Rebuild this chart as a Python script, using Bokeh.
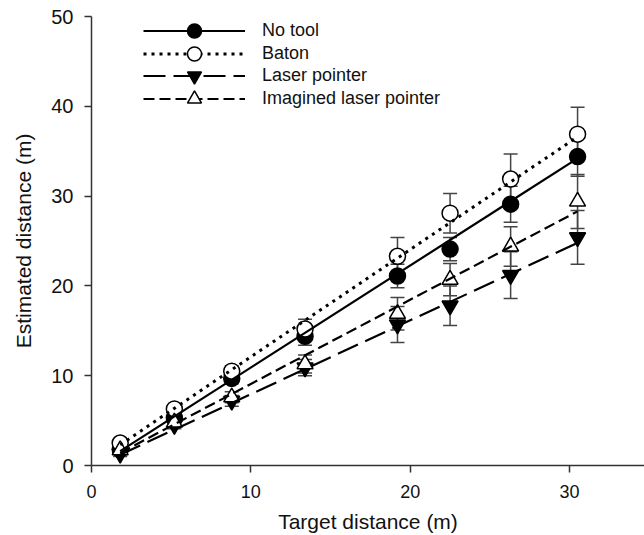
from bokeh.plotting import figure
from bokeh.models import (Range1d, FixedTicker, Legend, LegendItem, Whisker,
                          ColumnDataSource, TeeHead)
from bokeh.embed import file_html
from bokeh.resources import INLINE

# ---- data ----
target = [1.8, 5.2, 8.8, 13.4, 19.2, 22.5, 26.3, 30.5]

no_tool = [1.8, 5.3, 9.7, 14.4, 21.1, 24.1, 29.1, 34.4]
no_tool_se = [0.3, 0.4, 0.6, 1.0, 1.3, 1.3, 2.0, 2.2]

baton = [2.5, 6.3, 10.5, 15.2, 23.3, 28.1, 31.9, 36.9]
baton_se = [0.3, 0.4, 0.6, 1.1, 2.1, 2.2, 2.8, 3.0]

laser = [1.3, 4.5, 7.2, 10.9, 15.7, 17.8, 21.2, 25.4]
laser_se = [0.3, 0.4, 0.6, 0.9, 2.0, 2.2, 2.6, 3.0]

imagined = [1.7, 4.8, 7.6, 11.3, 16.9, 20.7, 24.4, 29.4]
imagined_se = [0.3, 0.4, 0.6, 1.0, 1.8, 1.8, 2.2, 3.0]

# regression line end points
fit_x = [1.8, 30.5]
fit_no_tool = [1.6, 34.2]
fit_baton = [2.3, 36.6]
fit_laser = [1.2, 24.8]
fit_imagined = [1.4, 28.3]

labels = ["No tool", "Baton", "Laser pointer", "Imagined laser pointer"]
x_ticks = [0, 10, 20, 30]
y_ticks = [0, 10, 20, 30, 40, 50]

FONT = "Liberation Sans"

p = figure(width=644, height=535, x_range=Range1d(0, 34.7), y_range=Range1d(0, 50),
           output_backend="svg", toolbar_location=None,
           min_border_left=91, min_border_right=0, min_border_top=16, min_border_bottom=70)
p.outline_line_color = None
p.xgrid.visible = False
p.ygrid.visible = False
p.background_fill_color = "white"

for ax in (p.xaxis[0], p.yaxis[0]):
    ax.axis_line_color = "#333333"
    ax.axis_line_width = 1.5
    ax.major_tick_line_color = "#333333"
    ax.major_tick_line_width = 1.5
    ax.major_tick_out = 7
    ax.major_tick_in = 0
    ax.minor_tick_line_color = None
    ax.major_label_text_font = FONT
    ax.major_label_text_color = "#111111"
    ax.axis_label_text_font = FONT
    ax.axis_label_text_font_size = "21px"
    ax.axis_label_text_font_style = "normal"
    ax.axis_label_text_color = "#111111"

p.xaxis.major_label_text_font_size = "18px"
p.yaxis.major_label_text_font_size = "20px"
p.xaxis.ticker = FixedTicker(ticks=x_ticks)
p.yaxis.ticker = FixedTicker(ticks=y_ticks)
p.xaxis.axis_label = "Target distance (m)"
p.yaxis.axis_label = "Estimated distance (m)"
p.xaxis.major_label_standoff = 12
p.yaxis.major_label_standoff = 11
p.xaxis.axis_label_standoff = 9
p.yaxis.axis_label_standoff = 13

series = [
    (no_tool, no_tool_se, fit_no_tool, "circle", "black", None, 2.2),
    (baton, baton_se, fit_baton, "circle", "white", "3 5", 3),
    (laser, laser_se, fit_laser, "inverted_triangle", "black", "22 8", 2.2),
    (imagined, imagined_se, fit_imagined, "triangle", "white", "11 5", 2.2),
]

err_color = "#444444"
for (vals, se, fit, marker, fill, dash, lw) in series:
    src = ColumnDataSource(dict(x=target, upper=[v + e for v, e in zip(vals, se)],
                                lower=[v - e for v, e in zip(vals, se)]))
    w = Whisker(base="x", upper="upper", lower="lower", source=src, dimension="height",
                line_color=err_color, line_width=1.5, level="underlay",
                upper_head=TeeHead(size=14, line_color=err_color, line_width=1.5),
                lower_head=TeeHead(size=14, line_color=err_color, line_width=1.5))
    p.add_layout(w)

scatters = []
for (vals, se, fit, marker, fill, dash, lw) in series:
    s = p.scatter(target, vals, marker=marker, size=16, fill_color=fill,
                  line_color="black", line_width=1.5)
    scatters.append(s)

lines = []
for (vals, se, fit, marker, fill, dash, lw) in series:
    kw = dict(line_color="black", line_width=lw)
    if dash:
        kw["line_dash"] = dash
    l = p.line(fit_x, fit, **kw)
    lines.append(l)

# one single-item legend per row so that legend markers keep a large size
row_offsets = [417, 394.5, 372, 349.5]
for l, s, lab, yoff in zip(lines, scatters, labels, row_offsets):
    legend = Legend(items=[LegendItem(label=lab, renderers=[l, s])], location=(52, yoff),
                    glyph_width=102, glyph_height=35, spacing=0, padding=0, margin=0,
                    border_line_color=None, background_fill_alpha=0, label_standoff=17,
                    label_text_font=FONT, label_text_font_size="18px",
                    label_text_color="#111111")
    p.add_layout(legend)

open("out.html", "w").write(file_html(p, INLINE))
